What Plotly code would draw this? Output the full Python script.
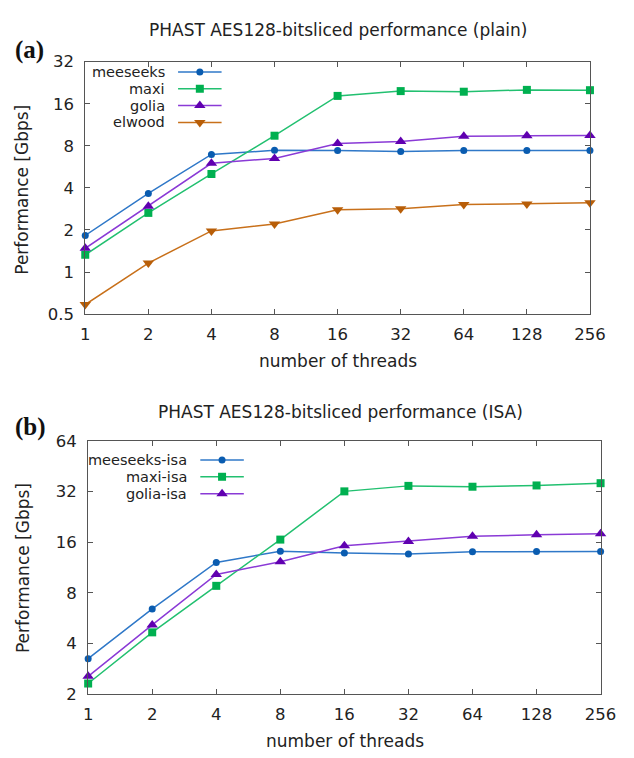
import plotly.graph_objects as go

threads = [1, 2, 4, 8, 16, 32, 64, 128, 256]
tick_labels = ["1", "2", "4", "8", "16", "32", "64", "128", "256"]

# (a) plain
meeseeks = [1.83, 3.65, 6.94, 7.43, 7.4, 7.3, 7.4, 7.4, 7.4]
maxi = [1.33, 2.65, 5.03, 9.45, 18.2, 19.7, 19.5, 20.1, 20.0]
golia = [1.48, 2.96, 6.0, 6.5, 8.3, 8.6, 9.35, 9.45, 9.5]
elwood = [0.586, 1.16, 1.97, 2.21, 2.79, 2.84, 3.04, 3.07, 3.13]

# (b) ISA
meeseeks_isa = [3.26, 6.43, 12.15, 14.15, 13.8, 13.65, 14.07, 14.1, 14.1]
maxi_isa = [2.32, 4.67, 8.82, 16.6, 32.1, 34.6, 34.2, 34.8, 35.9]
golia_isa = [2.56, 5.17, 10.3, 12.27, 15.25, 16.2, 17.35, 17.75, 18.0]

W, H = 634, 758
def px(x): return x / W
def py(y): return 1 - y / H

BLUE_L, BLUE_M = "#2f78c8", "#0a5cb0"
GREEN_L, GREEN_M = "#22c070", "#00b050"
PURP_L, PURP_M = "#8a3ad6", "#6000b0"
ORNG_L, ORNG_M = "#c8701a", "#b85e08"

styles = {
    "meeseeks": (BLUE_L, BLUE_M, "circle", 7),
    "maxi": (GREEN_L, GREEN_M, "square", 8),
    "golia": (PURP_L, PURP_M, "triangle-up", 10),
    "elwood": (ORNG_L, ORNG_M, "triangle-down", 10),
}

FONT = "DejaVu Sans"
TXT = "#222"

fig = go.Figure()

def add_series(name, ys, style_key, xa, ya):
    lc, mc, sym, sz = styles[style_key]
    fig.add_trace(go.Scatter(
        x=threads, y=ys, mode="lines+markers", name=name, showlegend=False,
        line=dict(color=lc, width=1.5),
        marker=dict(symbol=sym, size=sz, color=mc, line=dict(width=0)),
        xaxis=xa, yaxis=ya, cliponaxis=False))

add_series("meeseeks", meeseeks, "meeseeks", "x", "y")
add_series("maxi", maxi, "maxi", "x", "y")
add_series("golia", golia, "golia", "x", "y")
add_series("elwood", elwood, "elwood", "x", "y")

add_series("meeseeks-isa", meeseeks_isa, "meeseeks", "x2", "y2")
add_series("maxi-isa", maxi_isa, "maxi", "x2", "y2")
add_series("golia-isa", golia_isa, "golia", "x2", "y2")

# custom legends (gnuplot style: text right-aligned, sample to the right) on a full-page helper axis
legend_a = [("meeseeks", "meeseeks"), ("maxi", "maxi"), ("golia", "golia"), ("elwood", "elwood")]
legend_b = [("meeseeks-isa", "meeseeks"), ("maxi-isa", "maxi"), ("golia-isa", "golia")]

annotations = []

def add_legend(entries, text_right, y0, dy, line_x0, line_x1):
    for i, (label, key) in enumerate(entries):
        lc, mc, sym, sz = styles[key]
        yy = y0 + i * dy
        fig.add_trace(go.Scatter(
            x=[px(line_x0), px(line_x1)], y=[py(yy), py(yy)], mode="lines",
            line=dict(color=lc, width=1.5), showlegend=False,
            xaxis="x3", yaxis="y3", hoverinfo="skip"))
        fig.add_trace(go.Scatter(
            x=[px((line_x0 + line_x1) / 2)], y=[py(yy)], mode="markers",
            marker=dict(symbol=sym, size=sz, color=mc), showlegend=False,
            xaxis="x3", yaxis="y3", hoverinfo="skip"))
        annotations.append(dict(
            x=px(text_right), y=py(yy), xref="paper", yref="paper",
            text=label, showarrow=False, xanchor="right", yanchor="middle",
            font=dict(family=FONT, size=14.5, color=TXT)))

add_legend(legend_a, 168, 64.5, 17.3, 179, 224)
add_legend(legend_b, 190, 462.5, 17.3, 202, 247)

axis_common = dict(
    type="log", showgrid=False, zeroline=False, showline=True, linecolor="#555",
    linewidth=1, mirror="ticks", ticks="inside", ticklen=5, tickcolor="#555",
    tickfont=dict(family=FONT, size=16.5, color=TXT))

fig.update_layout(
    xaxis=dict(**axis_common, domain=[px(83), px(605)], anchor="y",
               range=[0, 8 * 0.30103], tickvals=threads, ticktext=tick_labels,
               ticklabelstandoff=5),
    yaxis=dict(**axis_common, domain=[py(313), py(54)], anchor="x",
               range=[-0.30103, 5 * 0.30103], tickvals=[0.5, 1, 2, 4, 8, 16, 32],
               ticktext=["0.5", "1", "2", "4", "8", "16", "32"], ticklabelstandoff=7),
    xaxis2=dict(**axis_common, domain=[px(86), px(616)], anchor="y2",
                range=[0, 8 * 0.30103], tickvals=threads, ticktext=tick_labels,
                ticklabelstandoff=5),
    yaxis2=dict(**axis_common, domain=[py(703), py(443)], anchor="x2",
                range=[0.30103, 6 * 0.30103], tickvals=[2, 4, 8, 16, 32, 64],
                ticktext=["2", "4", "8", "16", "32", "64"], ticklabelstandoff=7),
    xaxis3=dict(domain=[0, 1], range=[0, 1], visible=False, fixedrange=True, anchor="y3"),
    yaxis3=dict(domain=[0, 1], range=[0, 1], visible=False, fixedrange=True, anchor="x3"),
)

def txt(x, y, s, size=17, **kw):
    d = dict(x=px(x), y=py(y), xref="paper", yref="paper", text=s, showarrow=False,
             xanchor="center", yanchor="middle", font=dict(family=FONT, size=size, color=TXT))
    d.update(kw)
    return d

annotations += [
    txt(344, 21.5, "PHAST AES128-bitsliced performance (plain)"),
    txt(347, 413, "PHAST AES128-bitsliced performance (ISA)"),
    txt(344, 361, "number of threads"),
    txt(352, 751, "number of threads"),
    txt(18, 185, "Performance [Gbps]", textangle=-90),
    txt(18, 573, "Performance [Gbps]", textangle=-90),
    dict(x=px(8), y=py(42), xref="paper", yref="paper", text="<b>(a)</b>",
         showarrow=False, xanchor="left", yanchor="middle",
         font=dict(family="Liberation Serif", size=25, color="#111")),
    dict(x=px(8), y=py(429), xref="paper", yref="paper", text="<b>(b)</b>",
         showarrow=False, xanchor="left", yanchor="middle",
         font=dict(family="Liberation Serif", size=25, color="#111")),
]

fig.update_layout(
    width=W, height=H, margin=dict(l=0, r=0, t=0, b=0),
    paper_bgcolor="white", plot_bgcolor="rgba(0,0,0,0)",
    annotations=annotations, showlegend=False)

fig.write_html("out.html")
